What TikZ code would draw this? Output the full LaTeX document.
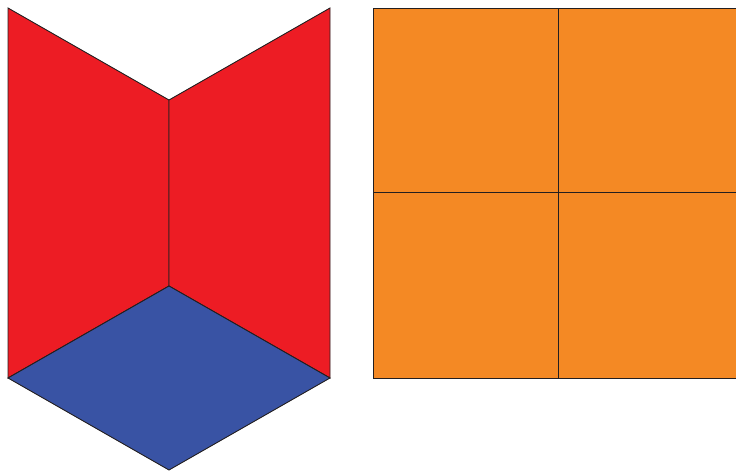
\documentclass[tikz,border=0pt]{standalone}
\definecolor{pred}{HTML}{ED1C24}
\definecolor{pblue}{HTML}{3953A4}
\definecolor{porange}{HTML}{F48924}
\definecolor{pline}{HTML}{231F20}
\begin{document}
\begin{tikzpicture}[x=1pt,y=-1pt,
  face/.style={draw=pline,line width=0.9pt,line join=miter}]
\useasboundingbox (0,0) rectangle (736,472);
% left figure
\filldraw[face,fill=pred] (8,8) -- (169,100) -- (169,286) -- (8,378) -- cycle;
\filldraw[face,fill=pred] (169,100) -- (330,8) -- (330,378) -- (169,286) -- cycle;
\filldraw[face,fill=pblue] (8,378) -- (169,286) -- (330,378) -- (169,470) -- cycle;
% square
\fill[porange] (373,8) rectangle (736,378);
\draw[face] (736,8) -- (373,8) -- (373,378) -- (736,378);
\draw[face] (558,8) -- (558,378);
\draw[face] (373,192) -- (736,192);
\end{tikzpicture}
\end{document}
